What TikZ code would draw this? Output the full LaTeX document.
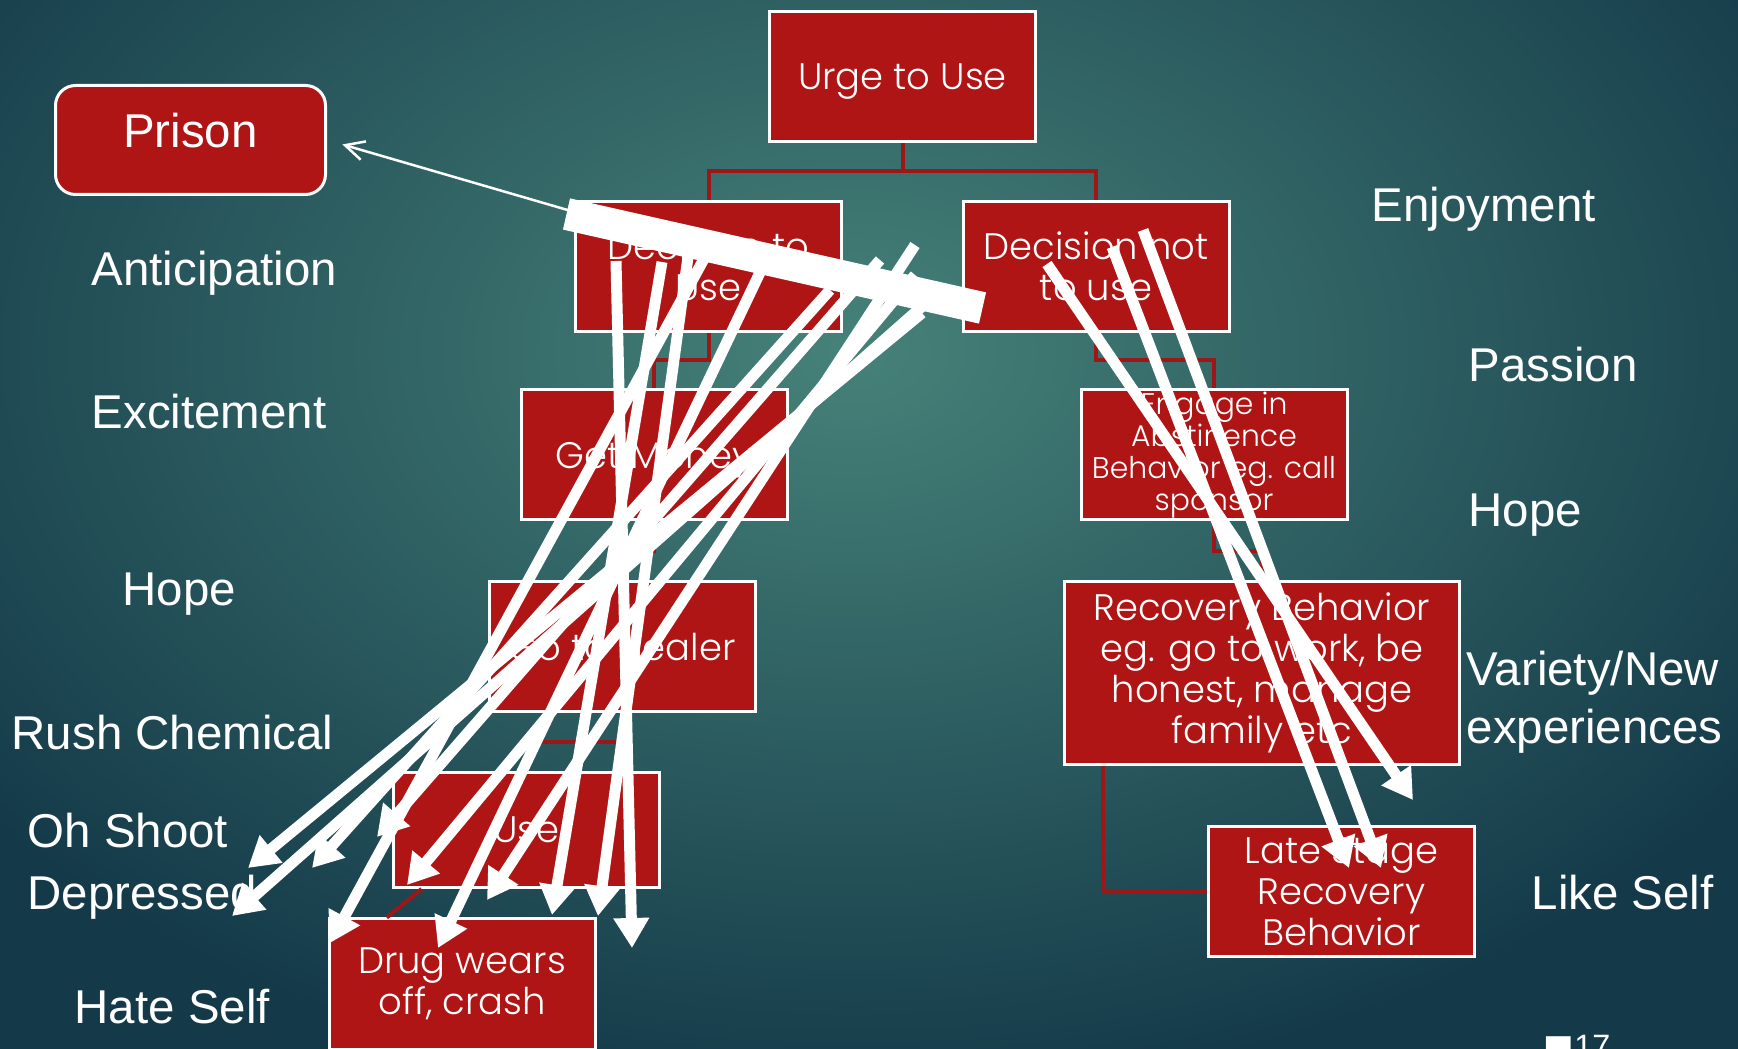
\documentclass[tikz,border=0pt]{standalone}
\usepackage{fontspec}
\setmainfont{Liberation Sans}
\newfontfamily\boxfont{Poppins Light}
\newfontfamily\symfont{DejaVu Sans}
\usetikzlibrary{positioning, calc, arrows.meta}

\definecolor{slidein}{HTML}{468279}
\definecolor{slideout}{HTML}{143A49}
\definecolor{boxred}{HTML}{B01515}
\definecolor{treered}{HTML}{9C1717}

\tikzset{
  stagebox/.style={draw=white, line width=0.03cm, fill=boxred, text=white,
    minimum width=2.66cm, minimum height=1.30cm, inner sep=0pt, align=center,
    font=\boxfont\fontsize{10.5}{11.7}\selectfont},
  tree/.style={draw=treered, line width=0.04cm},
  feeling/.style={text=white, anchor=base west, inner sep=0pt,
    font=\fontsize{13.5}{16.5}\selectfont},
  scrawl/.style={white, line width=0.11cm,
    -{Triangle[width=0.34cm, length=0.30cm]}},
}

\begin{document}
\begin{tikzpicture}[x=1cm, y=-1cm]

    % Slide background
    \useasboundingbox (0,0) rectangle (17.38,10.49);
    \begin{scope}
        \clip (0,0) rectangle (17.38,10.49);
        \shade[inner color=slidein, outer color=slideout] (-2.5,-4) rectangle (19.5,11);
    \end{scope}

    % Boxes of the chart
    \node[stagebox, text depth=0pt] (urge) at (9.025,0.77) {Urge to Use};
    \node[stagebox] (dtu) at (7.085,2.665) {Decision to\\Use};
    \node[stagebox] (dnot) at (10.96,2.665) {Decision not\\to use};
    \node[stagebox, text depth=0pt] (money) at (6.54,4.55) {Get Money};
    \node[stagebox] (dealer) at (6.22,6.47) {Go to dealer};
    \node[stagebox, minimum height=1.15cm] (use) at (5.265,8.30) {Use};
    \node[stagebox] (crash) at (4.62,9.84) {Drug wears\\off, crash};
    \node[stagebox, font=\boxfont\fontsize{8.5}{9.1}\selectfont] (engage) at (12.14,4.55)
        {Engage in\\Abstinence\\Behavior eg. call\\sponsor};
    \node[stagebox, minimum width=3.95cm, minimum height=1.83cm] (recov) at (12.62,6.73)
        {Recovery Behavior\\eg. go to work, be\\honest,  manage\\family etc};
    \node[stagebox] (late) at (13.415,8.915) {Late Stage\\Recovery\\Behavior};
    \node[stagebox, rounded corners=0.2cm, minimum width=2.70cm, minimum height=1.09cm,
        text depth=0.2cm, font=\fontsize{13.5}{16}\selectfont] (prison) at (1.905,1.40) {Prison};

    % Connectors of the chart
    \draw[tree] (urge.south) -- ++(0,0.28) -| (dtu.north);
    \draw[tree] (urge.south) -- ++(0,0.28) -| (dnot.north);
    \draw[tree] (dtu.south) -- ++(0,0.27) -| (money.north);
    \draw[tree] (money.south) -- ++(0,0.30) -| (dealer.north);
    \draw[tree] (dealer.south) -- ++(0,0.29) -| (use.north);
    \draw[tree] ($(use.south west)!0.11!(use.south east)$) -- ($(crash.north west)!0.22!(crash.north east)$);
    \draw[tree] (dnot.south) -- ++(0,0.27) -| (engage.north);
    \draw[tree] (engage.south) -- ++(0,0.30) -| (recov.north);
    \draw[tree] ($(recov.south west)!0.1!(recov.south east)$) |- (late.west);

    % Feelings on the left
    \node[feeling] (anticip) at (0.91,2.86) {Anticipation};
    \node[feeling] (excite) at (0.91,4.29) {Excitement};
    \node[feeling] (hopel) at (1.22,6.06) {Hope};
    \node[feeling] (rush) at (0.11,7.50) {Rush Chemical};
    \node[feeling] (shoot) at (0.27,8.48) {Oh Shoot};
    \node[feeling] (depress) at (0.27,9.10) {Depressed};
    \node[feeling] (hate) at (0.74,10.23) {Hate Self};

    % Feelings on the right
    \node[feeling] (enjoy) at (13.71,2.22) {Enjoyment};
    \node[feeling] (passion) at (14.68,3.82) {Passion};
    \node[feeling] (hoper) at (14.68,5.27) {Hope};
    \node[feeling, anchor=west, align=left] (variety) at (14.66,7.025) {Variety/New\\experiences};
    \node[feeling] (likeself) at (15.31,9.10) {Like Self};

    % Slide number
    \node[anchor=north west, text=white, inner sep=0pt, font=\fontsize{9.2}{11}\selectfont]
        (slidenum) at (15.43,10.35) {{\symfont ■}17};

    % Scribbled arrows, start and end points
    \coordinate (a1) at (6.16,2.61);   \coordinate (b1) at (6.32,9.48);
    \coordinate (a2) at (6.62,2.62);   \coordinate (b2) at (5.52,9.15);
    \coordinate (a3) at (6.88,2.57);   \coordinate (b3) at (5.98,9.16);
    \coordinate (a4) at (7.05,2.57);   \coordinate (b4) at (3.30,9.43);
    \coordinate (a5) at (7.65,2.62);   \coordinate (b5) at (4.38,9.48);
    \coordinate (a6) at (9.15,2.45);   \coordinate (b6) at (4.87,9.00);
    \coordinate (a7) at (8.80,2.60);   \coordinate (b7) at (3.77,8.37);
    \coordinate (a8) at (9.15,2.75);   \coordinate (b8) at (4.07,8.85);
    \coordinate (a9) at (8.30,2.90);   \coordinate (b9) at (3.12,8.68);
    \coordinate (a10) at (9.22,3.13);  \coordinate (b10) at (2.48,8.68);
    \coordinate (a11) at (9.35,2.95);  \coordinate (b11) at (2.32,9.16);
    \coordinate (a12) at (10.47,2.64); \coordinate (b12) at (14.13,8.00);
    \coordinate (a13) at (11.12,2.47); \coordinate (b13) at (13.49,8.68);
    \coordinate (a14) at (11.43,2.30); \coordinate (b14) at (13.81,8.68);

    \foreach \i in {1,...,14}
        \draw[scrawl] (a\i) -- (b\i);

    % Thin arrow to prison and the thick bar
    \coordinate (barl) at (5.665,2.14);
    \coordinate (barr) at (9.825,3.08);
    \draw[white, line width=0.025cm, shorten >=0.16cm,
        -{Straight Barb[length=0.19cm, width=0.19cm]}] (5.71,2.11) -- (prison.east);
    \draw[white, line width=0.32cm] (barl) -- (barr);

\end{tikzpicture}
\end{document}
